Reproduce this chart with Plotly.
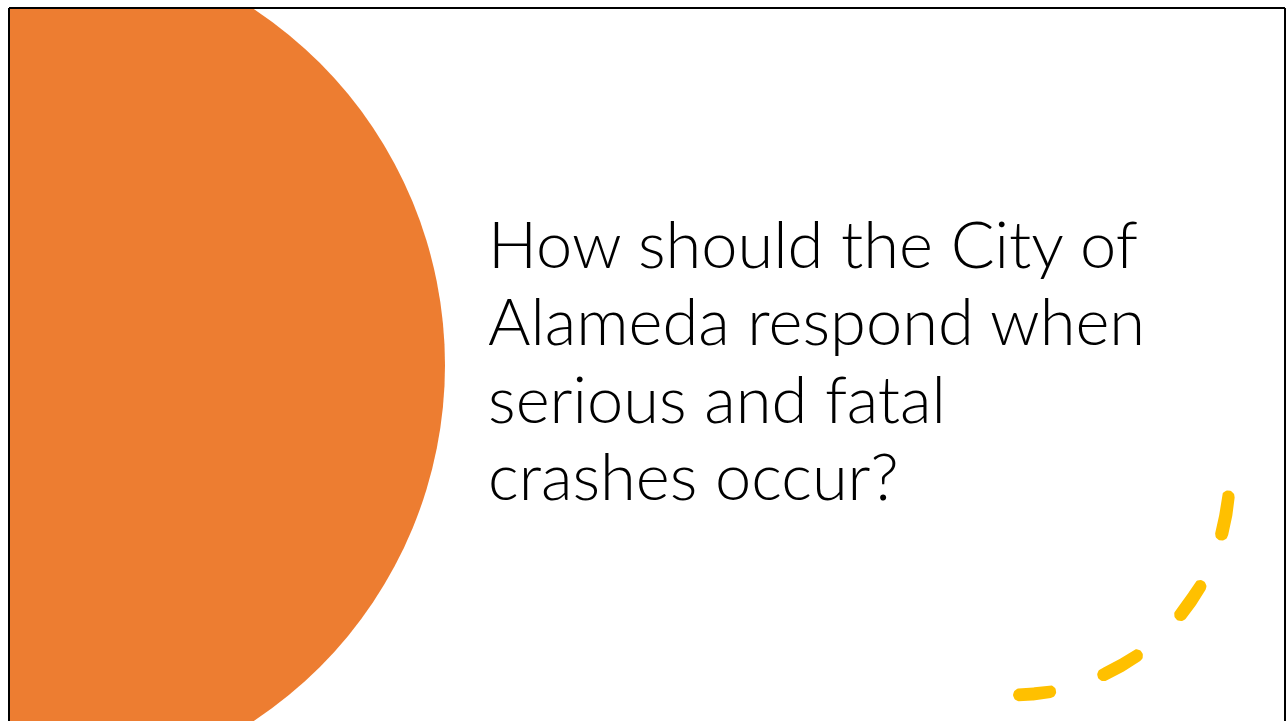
import numpy as np
import plotly.graph_objects as go

W, H = 1288, 721

# Text content
title_lines = ["How should the City of", "Alameda respond when", "serious and fatal", "crashes occur?"]
line_centers = [242.5, 319.5, 397.5, 474.5]

# Decorative geometry (pixel units)
circle_center = (18, 365)
circle_radius = 427
arc_center = (1012, 478)
arc_radius = 217
dash_half_width = 6.5
dash_angles = [(5, 15), (30, 39), (55, 65), (80, 88)]

ORANGE = "#ED7D31"
YELLOW = "#FFC000"

fig = go.Figure()


def dash_polygon(a0, a1):
    cx, cy = arc_center
    r, hw = arc_radius, dash_half_width
    t = np.radians(np.linspace(a0, a1, 40))
    outer_x = cx + (r + hw) * np.cos(t)
    outer_y = cy + (r + hw) * np.sin(t)
    inner_x = cx + (r - hw) * np.cos(t[::-1])
    inner_y = cy + (r - hw) * np.sin(t[::-1])
    # end cap at a1 (from outer to inner), start cap at a0 (from inner to outer)
    e1x, e1y = cx + r * np.cos(t[-1]), cy + r * np.sin(t[-1])
    e0x, e0y = cx + r * np.cos(t[0]), cy + r * np.sin(t[0])
    c = np.linspace(0, np.pi, 20)
    cap1_x = e1x + hw * np.cos(t[-1] + c)
    cap1_y = e1y + hw * np.sin(t[-1] + c)
    cap0_x = e0x + hw * np.cos(t[0] + np.pi + c)
    cap0_y = e0y + hw * np.sin(t[0] + np.pi + c)
    xs = np.concatenate([outer_x, cap1_x, inner_x, cap0_x])
    ys = np.concatenate([outer_y, cap1_y, inner_y, cap0_y])
    return xs, ys


for a0, a1 in dash_angles:
    xs, ys = dash_polygon(a0, a1)
    fig.add_trace(go.Scatter(x=xs, y=ys, mode="lines", fill="toself",
                             fillcolor=YELLOW, line=dict(width=0, color=YELLOW),
                             hoverinfo="skip", showlegend=False))

fig.add_shape(type="circle", xref="x", yref="y",
              x0=circle_center[0] - circle_radius, x1=circle_center[0] + circle_radius,
              y0=circle_center[1] - circle_radius, y1=circle_center[1] + circle_radius,
              fillcolor=ORANGE, line=dict(width=0), layer="below")

# border
for (x0, y0, x1, y1) in [(9, 8, 1285, 8), (9, 8, 9, 721), (1285, 8, 1285, 721)]:
    fig.add_shape(type="line", xref="paper", yref="paper",
                  x0=x0 / W, x1=x1 / W, y0=1 - y0 / H, y1=1 - y1 / H,
                  line=dict(color="black", width=2))

for txt, yc in zip(title_lines, line_centers):
    fig.add_annotation(x=486, y=yc, xref="x", yref="y", text=txt, showarrow=False,
                       xanchor="left", yanchor="middle",
                       font=dict(family="Lato", size=65, color="black", weight=300))

fig.update_xaxes(range=[10, 1285], domain=[10 / W, 1285 / W], visible=False, fixedrange=True)
fig.update_yaxes(range=[721, 9], domain=[0, 1 - 9 / H], visible=False, fixedrange=True)
fig.update_layout(width=W, height=H, margin=dict(l=0, r=0, t=0, b=0),
                  paper_bgcolor="white", plot_bgcolor="white")

fig.write_html("out.html", config={"displayModeBar": False, "staticPlot": True},
               post_script="document.body.style.margin='0';document.body.style.overflow='hidden';")
